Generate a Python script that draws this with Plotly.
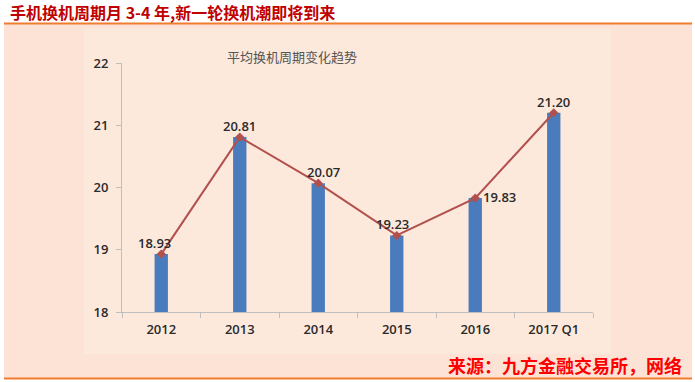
import plotly.graph_objects as go

categories = ["2012", "2013", "2014", "2015", "2016", "2017 Q1"]
values = [18.93, 20.81, 20.07, 19.23, 19.83, 21.20]
labels = ["18.93", "20.81", "20.07", "19.23", "19.83", "21.20"]
label_dx = [-7, 0, 5, -4, 24, 0]
label_dy = [11, 11, 11, 11, 1, 11]
y_ticks = [18, 19, 20, 21, 22]

W, H = 695, 382
L, R, T, B = 122, 593, 63, 312

fig = go.Figure()
fig.add_trace(go.Bar(
    x=categories, y=values, width=0.17,
    marker=dict(color="#4a7cbd", line=dict(width=0)),
    hoverinfo="skip", showlegend=False,
))
fig.add_trace(go.Scatter(
    x=categories, y=values, mode="lines+markers",
    line=dict(color="#b2504d", width=2),
    marker=dict(symbol="diamond", size=7, color="#b2504d"),
    cliponaxis=False, showlegend=False,
))

def px_x(p):
    return (p - L) / (R - L)
def px_y(p):
    return (B - p) / (B - T)

shapes = [
    dict(type="rect", xref="paper", yref="paper", layer="below",
         x0=px_x(4), x1=px_x(692), y0=px_y(378), y1=px_y(24),
         fillcolor="#fde3d6", line=dict(width=0)),
    dict(type="rect", xref="paper", yref="paper", layer="below",
         x0=px_x(84), x1=px_x(611), y0=px_y(354), y1=px_y(28),
         fillcolor="#fce9dc", line=dict(width=0)),
    dict(type="line", xref="paper", yref="paper",
         x0=px_x(4), x1=px_x(692), y0=px_y(23.5), y1=px_y(23.5),
         line=dict(color="#f07d2e", width=2)),
    dict(type="line", xref="paper", yref="paper",
         x0=px_x(4), x1=px_x(692), y0=px_y(378.5), y1=px_y(378.5),
         line=dict(color="#f07d2e", width=2)),
]

annotations = [
    dict(text="<b>手机换机周期月 3-4 年,新一轮换机潮即将到来</b>", xref="paper", yref="paper",
         x=px_x(8), y=px_y(12), xanchor="left", yanchor="middle", showarrow=False,
         font=dict(family="Noto Sans CJK SC", size=16, color="#c00000")),
    dict(text="<b>来源：九方金融交易所，网络</b>", xref="paper", yref="paper",
         x=px_x(684), y=px_y(365), xanchor="right", yanchor="middle", showarrow=False,
         font=dict(family="Noto Sans CJK SC", size=18, color="#ff0000")),
    dict(text="平均换机周期变化趋势", xref="paper", yref="paper",
         x=px_x(292), y=px_y(57), xanchor="center", yanchor="middle", showarrow=False,
         font=dict(family="Noto Sans CJK SC", size=13, color="#555555")),
]
for i, (v, t, dx, dy) in enumerate(zip(values, labels, label_dx, label_dy)):
    annotations.append(dict(
        text=t, x=i, y=v, xref="x", yref="y", showarrow=False,
        xanchor="center", yanchor="middle", xshift=dx, yshift=dy,
        font=dict(family="Open Sans, Arial", size=13, color="#2a2a2a", weight=600),
    ))

tick_font = dict(family="Open Sans, Arial", size=13, color="#2a2a2a", weight=600)
fig.update_layout(
    width=W, height=H,
    margin=dict(l=L, r=W - R, t=T, b=H - B, pad=0),
    paper_bgcolor="white", plot_bgcolor="rgba(0,0,0,0)",
    shapes=shapes, annotations=annotations,
    xaxis=dict(type="category", showgrid=False, showline=True, linecolor="#bfbfbf", linewidth=1,
               ticks="outside", tickson="boundaries", ticklen=5, tickcolor="#bfbfbf",
               tickfont=tick_font, ticklabelstandoff=5, range=[-0.5, 5.5], fixedrange=True),
    yaxis=dict(range=[18, 22], tickvals=y_ticks, showgrid=False, showline=True,
               linecolor="#bfbfbf", linewidth=1, ticks="outside", ticklen=5, tickcolor="#bfbfbf",
               tickfont=tick_font, ticklabelstandoff=5,
               zeroline=False, fixedrange=True),
)

fig.write_html("out.html", config={"displayModeBar": False},
               post_script="document.body.style.margin='0';")
